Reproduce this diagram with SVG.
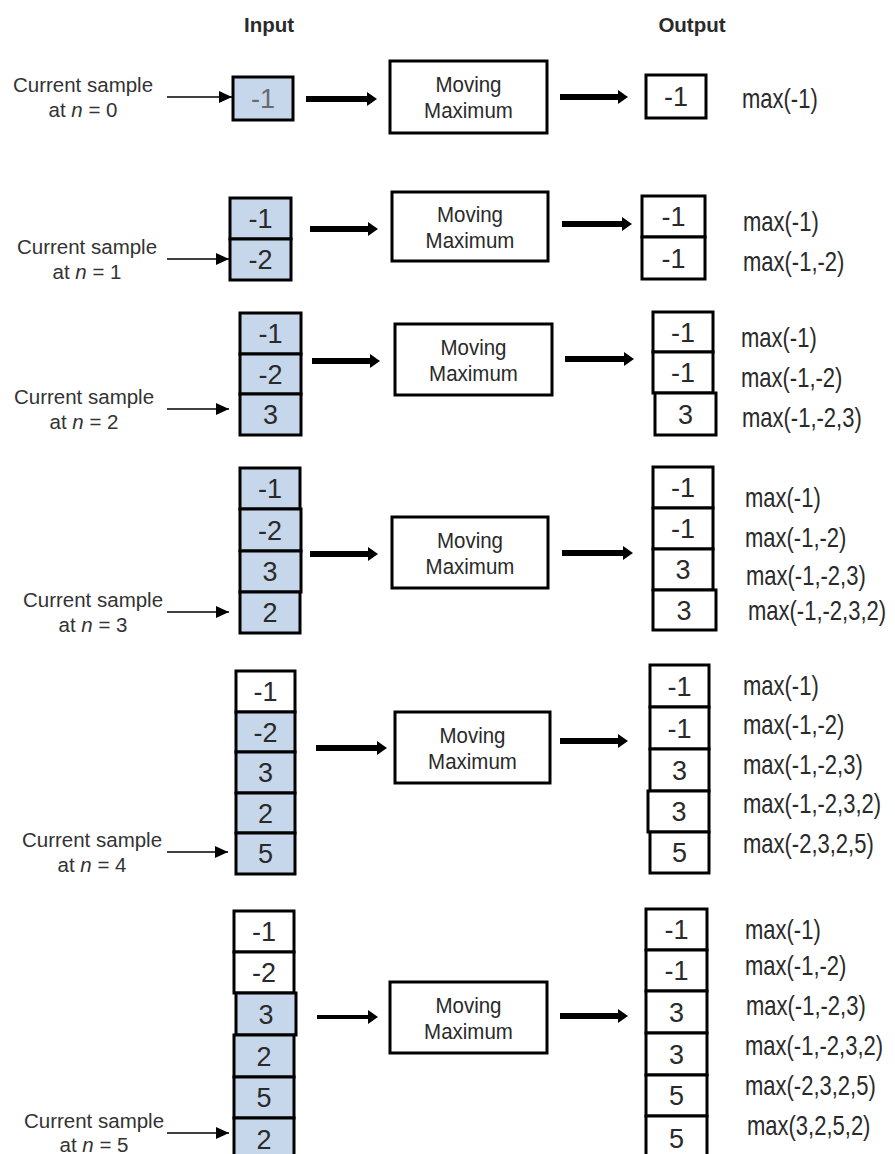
<svg xmlns="http://www.w3.org/2000/svg" width="895" height="1154" viewBox="0 0 895 1154">
<style>
.c{fill:#c6d7eb;stroke:#000;stroke-width:3}
.w{fill:#fff;stroke:#000;stroke-width:3}
.b{fill:#fff;stroke:#000;stroke-width:3}
text{font-family:"Liberation Sans",Arial,sans-serif;fill:#2a2a2a}
.d{font-size:27px;text-anchor:middle}
.g{fill:#6a6a6a}
.l{font-size:20.5px;text-anchor:middle;fill:#333}
.m{font-size:22px}
.h{font-size:20.5px;font-weight:bold;text-anchor:middle}
.mm{font-size:20.5px;text-anchor:middle}
.a1{stroke:#000;stroke-width:1.6;fill:none;marker-end:url(#h1)}
.a2{stroke:#000;stroke-width:6;fill:none;marker-end:url(#h2)}
</style>
<defs>
<marker id="h1" markerUnits="userSpaceOnUse" viewBox="0 0 13 12" markerWidth="13" markerHeight="12" refX="13" refY="6" orient="auto"><path d="M0,0L13,6L0,12z"/></marker>
<marker id="h2" markerUnits="userSpaceOnUse" viewBox="0 0 10 14" markerWidth="10" markerHeight="14" refX="1" refY="7" orient="auto"><path d="M0,0L10,7L0,14z"/></marker>
</defs>

<g id="headers">
<text class="h" x="269" y="32">Input</text>
<text class="h" x="692" y="32">Output</text>
</g>

<g id="connectors">
<line class="a1" x1="167" y1="97" x2="232" y2="97"/>
<line class="a2" x1="306" y1="99" x2="368" y2="99"/>
<line class="a2" x1="560" y1="97" x2="619" y2="97"/>
<line class="a1" x1="167" y1="259" x2="229" y2="259"/>
<line class="a2" x1="310" y1="229" x2="369" y2="229"/>
<line class="a2" x1="562" y1="224" x2="623" y2="224"/>
<line class="a1" x1="167" y1="409" x2="229" y2="409"/>
<line class="a2" x1="312" y1="361" x2="371" y2="361"/>
<line class="a2" x1="565" y1="359" x2="625" y2="359"/>
<line class="a1" x1="167" y1="612" x2="229" y2="612"/>
<line class="a2" x1="310" y1="554" x2="369" y2="554"/>
<line class="a2" x1="562" y1="553" x2="624" y2="553"/>
<line class="a1" x1="167" y1="852" x2="228" y2="852"/>
<line class="a2" x1="316" y1="748" x2="378" y2="748"/>
<line class="a2" x1="560" y1="741" x2="619" y2="741"/>
<line class="a1" x1="167" y1="1133" x2="229" y2="1133"/>
<line class="a2" x1="317" y1="1017" x2="369" y2="1017" style="stroke-width:4"/>
<line class="a2" x1="560" y1="1016" x2="619" y2="1016"/>
</g>

<!-- Row 0 -->
<g id="label0"><text class="l" x="83" y="92">Current sample</text><text class="l" x="83" y="117">at <tspan font-style="italic">n</tspan> = 0</text></g>
<g id="input0">
<rect class="c" x="233" y="77" width="60" height="43"/><text class="d g" x="263" y="108">-1</text>
</g>
<g id="mm0"><rect class="b" x="390" y="61" width="157" height="72"/>
<text class="mm" transform="translate(468.5,92) scale(1,1.12)">Moving</text>
<text class="mm" transform="translate(468.5,118) scale(1,1.12)">Maximum</text></g>
<g id="output0"><rect class="w" x="646" y="75" width="60" height="43"/><text class="d" x="676" y="106">-1</text></g>
<g id="max0"><text class="m" transform="translate(742,108) scale(1,1.25)">max(-1)</text></g>

<!-- Row 1 -->
<g id="label1"><text class="l" x="87" y="254">Current sample</text><text class="l" x="87" y="279">at <tspan font-style="italic">n</tspan> = 1</text></g>
<g id="input1">
<rect class="c" x="230" y="198" width="61" height="41"/><text class="d" x="260.5" y="228">-1</text>
<rect class="c" x="230" y="239" width="61" height="41"/><text class="d" x="260.5" y="269">-2</text>
</g>
<g id="mm1"><rect class="b" x="392" y="192" width="156" height="69"/>
<text class="mm" transform="translate(470,221.5) scale(1,1.12)">Moving</text>
<text class="mm" transform="translate(470,247.5) scale(1,1.12)">Maximum</text></g>
<g id="output1">
<rect class="w" x="642" y="196" width="63" height="41"/><text class="d" x="673.5" y="226">-1</text>
<rect class="w" x="642" y="237" width="63" height="42"/><text class="d" x="673.5" y="267.5">-1</text>
</g>
<g id="max1">
<text class="m" transform="translate(743,231) scale(1,1.25)">max(-1)</text>
<text class="m" transform="translate(743,271) scale(1,1.25)">max(-1,-2)</text>
</g>

<!-- Row 2 -->
<g id="label2"><text class="l" x="84" y="404">Current sample</text><text class="l" x="84" y="429">at <tspan font-style="italic">n</tspan> = 2</text></g>
<g id="input2">
<rect class="c" x="240" y="313" width="61" height="41"/><text class="d" x="270.5" y="343">-1</text>
<rect class="c" x="240" y="354" width="61" height="40"/><text class="d" x="270.5" y="383.5">-2</text>
<rect class="c" x="240" y="394" width="61" height="41"/><text class="d" x="270.5" y="424">3</text>
</g>
<g id="mm2"><rect class="b" x="395" y="324" width="157" height="71"/>
<text class="mm" transform="translate(473.5,354.5) scale(1,1.12)">Moving</text>
<text class="mm" transform="translate(473.5,380.5) scale(1,1.12)">Maximum</text></g>
<g id="output2">
<rect class="w" x="653" y="312" width="60" height="40"/><text class="d" x="683" y="341.5">-1</text>
<rect class="w" x="653" y="352" width="60" height="41"/><text class="d" x="683" y="382">-1</text>
<rect class="w" x="655" y="393" width="61" height="42"/><text class="d" x="685.5" y="423.5">3</text>
</g>
<g id="max2">
<text class="m" transform="translate(741,347) scale(1,1.25)">max(-1)</text>
<text class="m" transform="translate(741,387) scale(1,1.25)">max(-1,-2)</text>
<text class="m" transform="translate(742,427) scale(1,1.25)">max(-1,-2,3)</text>
</g>

<!-- Row 3 -->
<g id="label3"><text class="l" x="93" y="607">Current sample</text><text class="l" x="93" y="632">at <tspan font-style="italic">n</tspan> = 3</text></g>
<g id="input3">
<rect class="c" x="240" y="468" width="60" height="41"/><text class="d" x="270" y="498">-1</text>
<rect class="c" x="240" y="509" width="61" height="42"/><text class="d" x="270" y="539.5">-2</text>
<rect class="c" x="240" y="551" width="61" height="41"/><text class="d" x="270" y="581">3</text>
<rect class="c" x="240" y="592" width="60" height="41"/><text class="d" x="270" y="622">2</text>
</g>
<g id="mm3"><rect class="b" x="392" y="517" width="156" height="71"/>
<text class="mm" transform="translate(470,547.5) scale(1,1.12)">Moving</text>
<text class="mm" transform="translate(470,573.5) scale(1,1.12)">Maximum</text></g>
<g id="output3">
<rect class="w" x="653" y="467" width="60" height="41"/><text class="d" x="683" y="497">-1</text>
<rect class="w" x="653" y="508" width="60" height="41"/><text class="d" x="683" y="538">-1</text>
<rect class="w" x="653" y="549" width="60" height="41"/><text class="d" x="683" y="579">3</text>
<rect class="w" x="653" y="590" width="63" height="40"/><text class="d" x="684" y="619.5">3</text>
</g>
<g id="max3">
<text class="m" transform="translate(745,507) scale(1,1.25)">max(-1)</text>
<text class="m" transform="translate(745,547) scale(1,1.25)">max(-1,-2)</text>
<text class="m" transform="translate(746,585) scale(1,1.25)">max(-1,-2,3)</text>
<text class="m" transform="translate(748,620) scale(1,1.25)">max(-1,-2,3,2)</text>
</g>

<!-- Row 4 -->
<g id="label4"><text class="l" x="92" y="847">Current sample</text><text class="l" x="92" y="872">at <tspan font-style="italic">n</tspan> = 4</text></g>
<g id="input4">
<rect class="w" x="236" y="671" width="59" height="41"/><text class="d" x="265.5" y="701">-1</text>
<rect class="c" x="236" y="712" width="59" height="40"/><text class="d" x="265.5" y="741.5">-2</text>
<rect class="c" x="236" y="752" width="59" height="41"/><text class="d" x="265.5" y="782">3</text>
<rect class="c" x="236" y="793" width="59" height="40"/><text class="d" x="265.5" y="822.5">2</text>
<rect class="c" x="236" y="833" width="59" height="41"/><text class="d" x="265.5" y="863">5</text>
</g>
<g id="mm4"><rect class="b" x="395" y="712" width="155" height="71"/>
<text class="mm" transform="translate(472.5,742.5) scale(1,1.12)">Moving</text>
<text class="mm" transform="translate(472.5,768.5) scale(1,1.12)">Maximum</text></g>
<g id="output4">
<rect class="w" x="650" y="665" width="59" height="42"/><text class="d" x="679.5" y="695.5">-1</text>
<rect class="w" x="650" y="707" width="59" height="42"/><text class="d" x="679.5" y="737.5">-1</text>
<rect class="w" x="650" y="749" width="59" height="42"/><text class="d" x="679.5" y="779.5">3</text>
<rect class="w" x="648" y="791" width="61" height="41"/><text class="d" x="679" y="821">3</text>
<rect class="w" x="650" y="832" width="59" height="41"/><text class="d" x="679.5" y="862">5</text>
</g>
<g id="max4">
<text class="m" transform="translate(743,695) scale(1,1.25)">max(-1)</text>
<text class="m" transform="translate(743,734) scale(1,1.25)">max(-1,-2)</text>
<text class="m" transform="translate(743,774) scale(1,1.25)">max(-1,-2,3)</text>
<text class="m" transform="translate(743,813) scale(1,1.25)">max(-1,-2,3,2)</text>
<text class="m" transform="translate(743,853) scale(1,1.25)">max(-2,3,2,5)</text>
</g>

<!-- Row 5 -->
<g id="label5"><text class="l" x="94" y="1128">Current sample</text><text class="l" x="94" y="1152">at <tspan font-style="italic">n</tspan> = 5</text></g>
<g id="input5">
<rect class="w" x="234" y="911" width="60" height="41"/><text class="d" x="264" y="941">-1</text>
<rect class="w" x="234" y="952" width="60" height="41"/><text class="d" x="264" y="982">-2</text>
<rect class="c" x="236" y="993" width="60" height="42"/><text class="d" x="266" y="1023.5">3</text>
<rect class="c" x="234" y="1035" width="60" height="42"/><text class="d" x="264" y="1065.5">2</text>
<rect class="c" x="234" y="1077" width="60" height="41"/><text class="d" x="264" y="1107">5</text>
<rect class="c" x="234" y="1118" width="60" height="42"/><text class="d" x="264" y="1148.5">2</text>
</g>
<g id="mm5"><rect class="b" x="390" y="982" width="157" height="71"/>
<text class="mm" transform="translate(468.5,1012.5) scale(1,1.12)">Moving</text>
<text class="mm" transform="translate(468.5,1038.5) scale(1,1.12)">Maximum</text></g>
<g id="output5">
<rect class="w" x="646" y="909" width="61" height="41"/><text class="d" x="676.5" y="939">-1</text>
<rect class="w" x="646" y="950" width="61" height="41"/><text class="d" x="676.5" y="980">-1</text>
<rect class="w" x="646" y="991" width="61" height="42"/><text class="d" x="676.5" y="1021.5">3</text>
<rect class="w" x="646" y="1033" width="61" height="42"/><text class="d" x="676.5" y="1063.5">3</text>
<rect class="w" x="646" y="1075" width="61" height="41"/><text class="d" x="676.5" y="1105">5</text>
<rect class="w" x="646" y="1116" width="61" height="44"/><text class="d" x="676.5" y="1147.5">5</text>
</g>
<g id="max5">
<text class="m" transform="translate(745,939) scale(1,1.25)">max(-1)</text>
<text class="m" transform="translate(745,975) scale(1,1.25)">max(-1,-2)</text>
<text class="m" transform="translate(746,1015) scale(1,1.25)">max(-1,-2,3)</text>
<text class="m" transform="translate(745,1055) scale(1,1.25)">max(-1,-2,3,2)</text>
<text class="m" transform="translate(745,1095) scale(1,1.25)">max(-2,3,2,5)</text>
<text class="m" transform="translate(747,1135) scale(1,1.25)">max(3,2,5,2)</text>
</g>
</svg>
